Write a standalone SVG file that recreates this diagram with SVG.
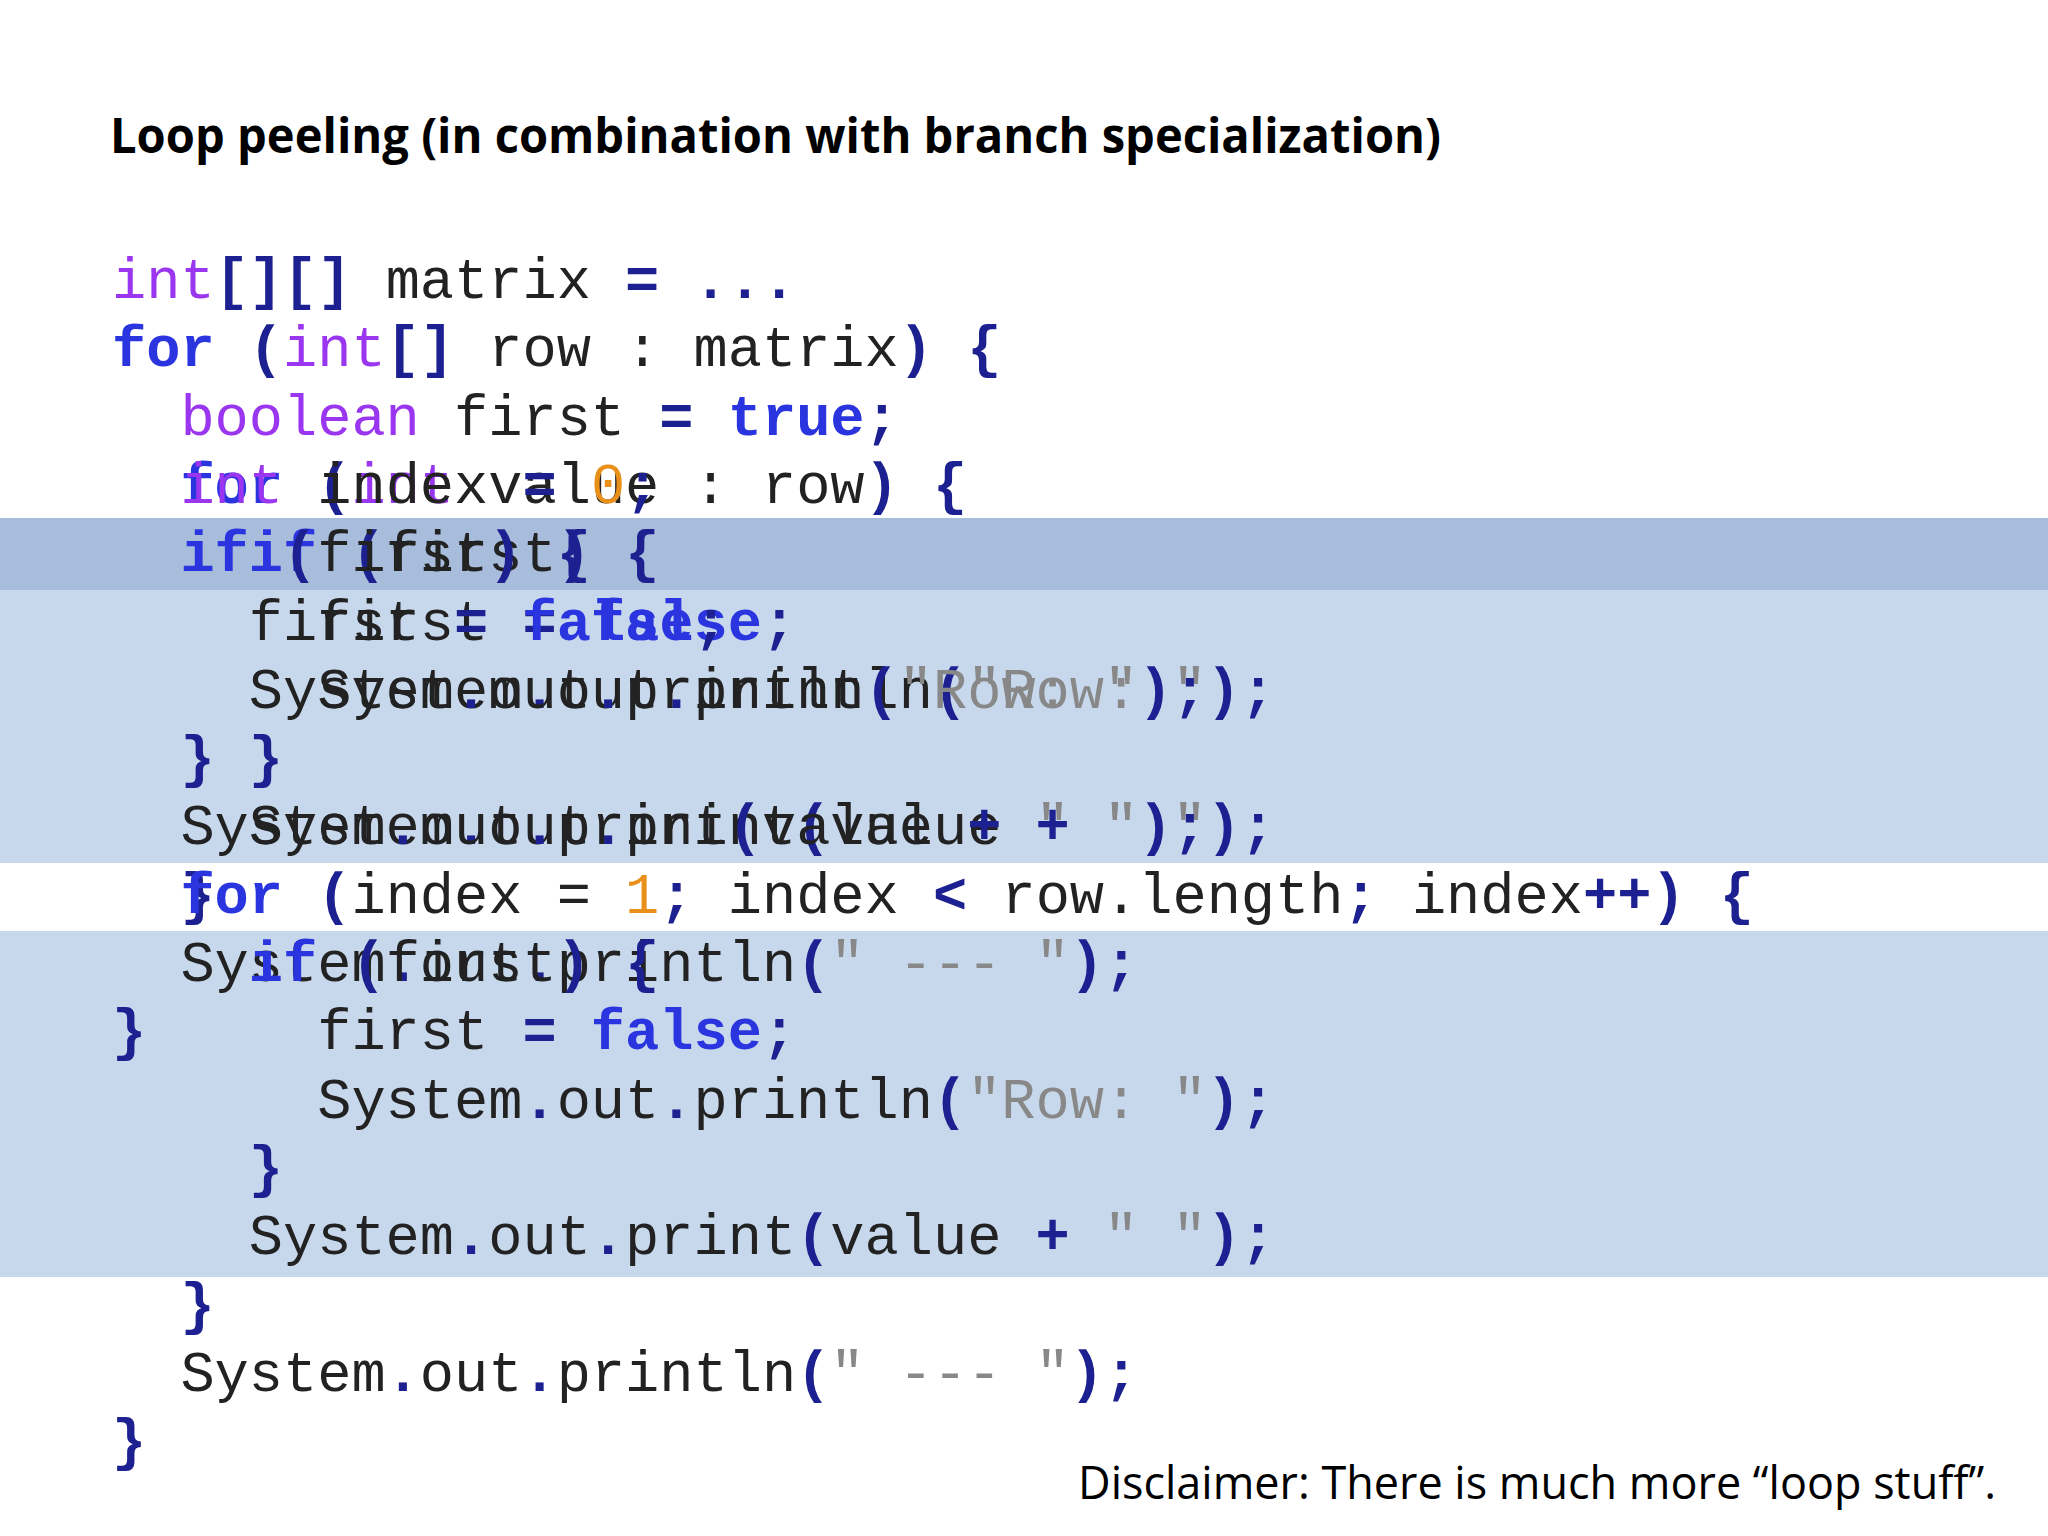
<svg xmlns="http://www.w3.org/2000/svg" width="2048" height="1536" viewBox="0 0 2048 1536">
<style>
.c{font-family:"Liberation Mono","Courier New",monospace;font-size:57px;fill:#222;white-space:pre}
.k{font-weight:bold;fill:#2a35e0}
.t{fill:#9a35f0}
.p{font-weight:bold;fill:#1c2090}
.s{fill:#888}
.n{fill:#e8901a}
</style>
<rect width="2048" height="1536" fill="#fff"/>
<g id="bands">
<rect x="0" y="518" width="2048" height="72" fill="#a8bcdc"/>
<rect x="0" y="590" width="2048" height="273" fill="#c8d8ec"/>
<rect x="0" y="931" width="2048" height="346" fill="#c8d8ec"/>
</g>
<text id="title" x="110" y="153" font-family="Open Sans,Liberation Sans,sans-serif" font-weight="bold" font-size="48" textLength="1331" lengthAdjust="spacingAndGlyphs">Loop peeling (in combination with branch specialization)</text>
<g id="codeA" class="c" xml:space="preserve">
<text x="112" y="298"><tspan class="t">int</tspan><tspan class="p">[][]</tspan> matrix <tspan class="p">=</tspan> <tspan class="p">...</tspan></text>
<text x="112" y="366.3"><tspan class="k">for</tspan> <tspan class="p">(</tspan><tspan class="t">int</tspan><tspan class="p">[]</tspan> row : matrix<tspan class="p">)</tspan> <tspan class="p">{</tspan></text>
<text x="180.4" y="434.6"><tspan class="t">boolean</tspan> first <tspan class="p">=</tspan> <tspan class="k">true</tspan><tspan class="p">;</tspan></text>
<text x="180.4" y="502.9"><tspan class="k">for</tspan> <tspan class="p">(</tspan><tspan class="t">int</tspan> value : row<tspan class="p">)</tspan> <tspan class="p">{</tspan></text>
<text x="248.8" y="571.2"><tspan class="k">if</tspan> <tspan class="p">(</tspan>first<tspan class="p">)</tspan> <tspan class="p">{</tspan></text>
<text x="317.2" y="639.5">first <tspan class="p">=</tspan> <tspan class="k">false</tspan><tspan class="p">;</tspan></text>
<text x="317.2" y="707.8">System<tspan class="p">.</tspan>out<tspan class="p">.</tspan>println<tspan class="p">(</tspan><tspan class="s">"Row: "</tspan><tspan class="p">);</tspan></text>
<text x="248.8" y="776.1"><tspan class="p">}</tspan></text>
<text x="248.8" y="844.4">System<tspan class="p">.</tspan>out<tspan class="p">.</tspan>print<tspan class="p">(</tspan>value <tspan class="p">+</tspan> <tspan class="s">" "</tspan><tspan class="p">);</tspan></text>
<text x="180.4" y="912.7"><tspan class="p">}</tspan></text>
<text x="180.4" y="981">System<tspan class="p">.</tspan>out<tspan class="p">.</tspan>println<tspan class="p">(</tspan><tspan class="s">" --- "</tspan><tspan class="p">);</tspan></text>
<text x="112" y="1049.3"><tspan class="p">}</tspan></text>
</g>
<g id="codeB" class="c" xml:space="preserve">
<text x="180.4" y="502.9"><tspan class="t">int</tspan> index <tspan class="p">=</tspan> <tspan class="n">0</tspan><tspan class="p">;</tspan></text>
<text x="180.4" y="571.2"><tspan class="k">if</tspan> <tspan class="p">(</tspan>first<tspan class="p">)</tspan> <tspan class="p">{</tspan></text>
<text x="248.8" y="639.5">first <tspan class="p">=</tspan> <tspan class="k">false</tspan><tspan class="p">;</tspan></text>
<text x="248.8" y="707.8">System<tspan class="p">.</tspan>out<tspan class="p">.</tspan>println<tspan class="p">(</tspan><tspan class="s">"Row: "</tspan><tspan class="p">);</tspan></text>
<text x="180.4" y="776.1"><tspan class="p">}</tspan></text>
<text x="180.4" y="844.4">System<tspan class="p">.</tspan>out<tspan class="p">.</tspan>print<tspan class="p">(</tspan>value <tspan class="p">+</tspan> <tspan class="s">" "</tspan><tspan class="p">);</tspan></text>
<text x="180.4" y="912.7"><tspan class="k">for</tspan> <tspan class="p">(</tspan>index = <tspan class="n">1</tspan><tspan class="p">;</tspan> index <tspan class="p">&lt;</tspan> row.length<tspan class="p">;</tspan> index<tspan class="p">++)</tspan> <tspan class="p">{</tspan></text>
<text x="248.8" y="981"><tspan class="k">if</tspan> <tspan class="p">(</tspan>first<tspan class="p">)</tspan> <tspan class="p">{</tspan></text>
<text x="317.2" y="1049.3">first <tspan class="p">=</tspan> <tspan class="k">false</tspan><tspan class="p">;</tspan></text>
<text x="317.2" y="1117.6">System<tspan class="p">.</tspan>out<tspan class="p">.</tspan>println<tspan class="p">(</tspan><tspan class="s">"Row: "</tspan><tspan class="p">);</tspan></text>
<text x="248.8" y="1185.9"><tspan class="p">}</tspan></text>
<text x="248.8" y="1254.2">System<tspan class="p">.</tspan>out<tspan class="p">.</tspan>print<tspan class="p">(</tspan>value <tspan class="p">+</tspan> <tspan class="s">" "</tspan><tspan class="p">);</tspan></text>
<text x="180.4" y="1322.5"><tspan class="p">}</tspan></text>
<text x="180.4" y="1390.8">System<tspan class="p">.</tspan>out<tspan class="p">.</tspan>println<tspan class="p">(</tspan><tspan class="s">" --- "</tspan><tspan class="p">);</tspan></text>
<text x="112" y="1459"><tspan class="p">}</tspan></text>
</g>
<text id="disclaimer" x="1996" y="1499" text-anchor="end" font-family="Open Sans,Liberation Sans,sans-serif" font-size="45" textLength="918" lengthAdjust="spacingAndGlyphs">Disclaimer: There is much more “loop stuff”.</text>
</svg>
